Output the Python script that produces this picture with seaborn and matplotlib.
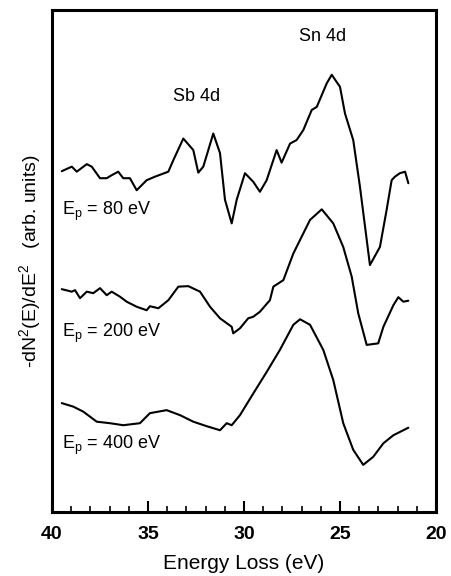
import seaborn as sns
import pandas as pd
import matplotlib
matplotlib.use('Agg')
import matplotlib.pyplot as plt
import numpy as np

# energy loss (eV) and offset intensity (arb. units)
e_80 = [39.49, 38.97, 38.71, 38.19, 37.93, 37.50, 37.15, 36.89, 36.55, 36.29, 35.94, 35.59, 35.07, 34.64,
        33.94, 33.68, 33.16, 32.64, 32.38, 32.12, 31.60, 31.25, 30.99, 30.64, 30.38, 29.95, 29.52, 29.17,
        28.82, 28.30, 28.04, 27.60, 27.26, 26.91, 26.47, 26.21, 25.69, 25.43, 25.00, 24.74, 24.31, 23.96,
        23.44, 22.92, 22.57, 22.31, 22.14, 21.88, 21.61, 21.44]
i_80 = [6.79, 6.88, 6.78, 6.93, 6.88, 6.65, 6.65, 6.71, 6.78, 6.65, 6.65, 6.41, 6.61, 6.68,
        6.78, 7.01, 7.44, 7.21, 6.76, 6.88, 7.54, 7.15, 6.22, 5.75, 6.22, 6.75, 6.58, 6.38,
        6.61, 7.21, 6.96, 7.34, 7.41, 7.61, 8.01, 8.07, 8.54, 8.71, 8.47, 7.94, 7.41, 6.48,
        4.92, 5.28, 6.02, 6.61, 6.68, 6.75, 6.78, 6.55]

e_200 = [39.49, 38.97, 38.80, 38.54, 38.19, 37.85, 37.50, 37.15, 36.89, 36.46, 36.11, 35.59, 35.07, 34.90,
         34.46, 33.94, 33.42, 32.90, 32.29, 31.77, 31.25, 30.64, 30.56, 30.21, 29.78, 29.52, 29.17, 28.65,
         28.47, 27.95, 27.43, 27.08, 26.56, 25.95, 25.35, 24.83, 24.39, 24.05, 23.61, 23.01, 22.74, 22.22,
         21.96, 21.70, 21.44]
i_200 = [4.44, 4.39, 4.42, 4.26, 4.39, 4.36, 4.46, 4.32, 4.39, 4.29, 4.19, 4.09, 4.02, 4.10,
         4.06, 4.22, 4.49, 4.50, 4.39, 4.09, 3.86, 3.69, 3.56, 3.66, 3.86, 3.89, 3.99, 4.22,
         4.49, 4.62, 5.15, 5.42, 5.82, 6.03, 5.75, 5.28, 4.69, 3.96, 3.33, 3.36, 3.69, 4.12,
         4.28, 4.19, 4.21]

e_400 = [39.49, 38.89, 38.37, 37.67, 36.98, 36.29, 35.42, 34.90, 34.03, 33.33, 32.64, 31.94, 31.25, 30.90,
         30.64, 30.21, 29.52, 28.82, 28.13, 27.43, 27.08, 26.56, 25.87, 25.35, 24.83, 24.31, 23.79, 23.27,
         22.74, 22.22, 21.44]
i_400 = [2.17, 2.10, 2.00, 1.80, 1.77, 1.73, 1.77, 1.97, 2.03, 1.93, 1.80, 1.71, 1.63, 1.77,
         1.73, 1.93, 2.36, 2.79, 3.23, 3.73, 3.84, 3.73, 3.23, 2.63, 1.77, 1.24, 0.94, 1.10,
         1.37, 1.53, 1.68]

labels = [r'E$_\mathrm{p}$ = 80 eV', r'E$_\mathrm{p}$ = 200 eV', r'E$_\mathrm{p}$ = 400 eV']
label_y = [5.98, 3.56, 1.33]

df = pd.concat([
    pd.DataFrame({'E': e_80, 'I': i_80, 'Ep': '80'}),
    pd.DataFrame({'E': e_200, 'I': i_200, 'Ep': '200'}),
    pd.DataFrame({'E': e_400, 'I': i_400, 'Ep': '400'}),
])

sns.set_style('ticks')
plt.rcParams['font.family'] = ['Liberation Sans', 'DejaVu Sans']
plt.rcParams['mathtext.fontset'] = 'custom'
plt.rcParams['mathtext.rm'] = 'Liberation Sans'
plt.rcParams['text.color'] = 'black'
plt.rcParams['axes.labelcolor'] = 'black'
plt.rcParams['xtick.color'] = 'black'

f = plt.figure(figsize=(4.51, 5.76), dpi=100)
ax = f.add_axes([0.1153, 0.111, 0.8514, 0.8716])
sns.lineplot(data=df, x='E', y='I', units='Ep', estimator=None, sort=False,
             color='black', lw=1.5, ax=ax, legend=False)

ax.set_xlim(40, 20)
ax.set_ylim(0, 10)
ax.set_xticks([40, 35, 30, 25, 20])
ax.set_xticks(np.arange(20, 41, 1), minor=True)
ax.set_yticks([])
ax.tick_params(axis='x', which='major', direction='in', length=8, width=1.5, pad=10, labelsize=14)
ax.tick_params(axis='x', which='minor', direction='in', length=4, width=1.2)
for lab in ax.get_xticklabels():
    lab.set_fontweight('bold')
for s in ax.spines.values():
    s.set_linewidth(2.2)
    s.set_color('black')
    s.set_visible(True)

ax.set_xlabel('Energy Loss (eV)', fontsize=15, labelpad=8)
ax.set_ylabel(r'-dN$^2$(E)/dE$^2$   (arb. units)', fontsize=14, labelpad=6)

for lab, y in zip(labels, label_y):
    ax.text(39.49, y, lab, fontsize=13, va='center', ha='left')
ax.text(32.46, 8.27, 'Sb 4d', fontsize=13, ha='center', va='center')
ax.text(25.9, 9.48, 'Sn 4d', fontsize=13, ha='center', va='center')

plt.savefig('out.png', dpi=100)
